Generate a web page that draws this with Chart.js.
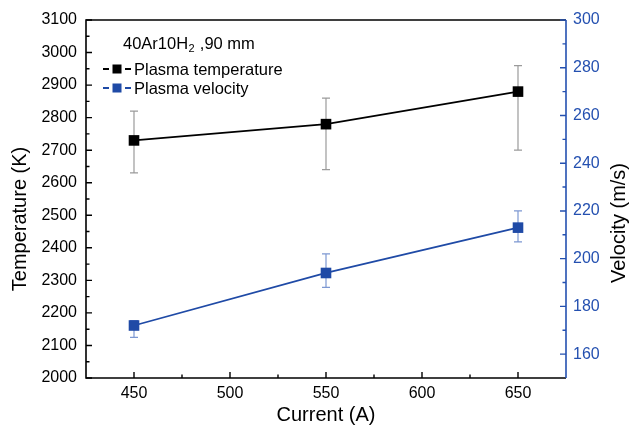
<!DOCTYPE html>
<html>
<head>
<meta charset="utf-8">
<script src="https://cdn.jsdelivr.net/npm/chart.js@4/dist/chart.umd.min.js"></script>
<style>
  html, body { margin: 0; padding: 0; background: #ffffff; }
  #wrap { width: 629px; height: 425px; }
</style>
</head>
<body>
<div id="wrap"><canvas id="chart" width="629" height="425"></canvas></div>
<script>
// Arc current (A)
const currents = [450, 550, 650];

// Plasma temperature (K) with error range
const temperature = [2730, 2780, 2880];
const temperatureLow = [2630, 2640, 2700];
const temperatureHigh = [2820, 2860, 2960];

// Plasma velocity (m/s) with error range
const velocity = [172, 194, 213];
const velocityLow = [167, 188, 207];
const velocityHigh = [174, 202, 220];

// Axis tick labels
const xTicks = [450, 500, 550, 600, 650];
const xMinorTicks = [475, 525, 575, 625];
const tempTicks = [2000, 2100, 2200, 2300, 2400, 2500, 2600, 2700, 2800, 2900, 3000, 3100];
const tempMinorTicks = [2050, 2150, 2250, 2350, 2450, 2550, 2650, 2750, 2850, 2950, 3050];
const velTicks = [160, 180, 200, 220, 240, 260, 280, 300];
const velMinorTicks = [170, 190, 210, 230, 250, 270, 290];

const FONT = '"Liberation Sans", Arial, sans-serif';
const BLACK = '#000000';
const BLUE = '#1f4aa6';
const AXIS_BLUE = '#2450b0';
const GRAY_ERR = '#9b9b9b';
const BLUE_ERR = '#7d98d2';

function fixedTicks(list) {
  return function (scale) { scale.ticks = list.map(v => ({ value: v })); };
}
const plainLabel = v => String(v);

const errorBars = {
  id: 'errorBars',
  beforeDatasetsDraw(chart) {
    const { ctx, scales } = chart;
    const sets = [
      { low: temperatureLow, high: temperatureHigh, y: scales.yT, color: GRAY_ERR },
      { low: velocityLow, high: velocityHigh, y: scales.yV, color: BLUE_ERR }
    ];
    ctx.save();
    ctx.lineWidth = 1.2;
    sets.forEach(s => {
      ctx.strokeStyle = s.color;
      currents.forEach((c, i) => {
        const x = scales.x.getPixelForValue(c);
        const y1 = s.y.getPixelForValue(s.low[i]);
        const y2 = s.y.getPixelForValue(s.high[i]);
        ctx.beginPath();
        ctx.moveTo(x, y1); ctx.lineTo(x, y2);
        ctx.moveTo(x - 4, y1); ctx.lineTo(x + 4, y1);
        ctx.moveTo(x - 4, y2); ctx.lineTo(x + 4, y2);
        ctx.stroke();
      });
    });
    ctx.restore();
  }
};

const frameAndLabels = {
  id: 'frameAndLabels',
  afterDraw(chart) {
    const { ctx, chartArea: a, scales } = chart;
    ctx.save();
    ctx.lineWidth = 1.6;
    // frame
    ctx.strokeStyle = BLACK;
    ctx.beginPath();
    ctx.moveTo(a.right, a.top); ctx.lineTo(a.left, a.top);
    ctx.lineTo(a.left, a.bottom); ctx.lineTo(a.right, a.bottom);
    ctx.stroke();
    ctx.strokeStyle = AXIS_BLUE;
    ctx.beginPath();
    ctx.moveTo(a.right, a.top); ctx.lineTo(a.right, a.bottom);
    ctx.stroke();

    // inward ticks
    ctx.lineWidth = 1.4;
    ctx.strokeStyle = BLACK;
    ctx.beginPath();
    xTicks.forEach(v => { const x = scales.x.getPixelForValue(v); ctx.moveTo(x, a.bottom); ctx.lineTo(x, a.bottom - 6); });
    xMinorTicks.forEach(v => { const x = scales.x.getPixelForValue(v); ctx.moveTo(x, a.bottom); ctx.lineTo(x, a.bottom - 3.5); });
    tempTicks.forEach(v => { const y = scales.yT.getPixelForValue(v); ctx.moveTo(a.left, y); ctx.lineTo(a.left + 6, y); });
    tempMinorTicks.forEach(v => { const y = scales.yT.getPixelForValue(v); ctx.moveTo(a.left, y); ctx.lineTo(a.left + 3.5, y); });
    ctx.stroke();
    ctx.strokeStyle = AXIS_BLUE;
    ctx.beginPath();
    velTicks.forEach(v => { const y = scales.yV.getPixelForValue(v); ctx.moveTo(a.right, y); ctx.lineTo(a.right - 6, y); });
    velMinorTicks.forEach(v => { const y = scales.yV.getPixelForValue(v); ctx.moveTo(a.right, y); ctx.lineTo(a.right - 3.5, y); });
    ctx.stroke();

    // axis titles
    ctx.textAlign = 'center';
    ctx.textBaseline = 'middle';
    ctx.font = '20px ' + FONT;
    ctx.fillStyle = BLACK;
    ctx.fillText('Current (A)', (a.left + a.right) / 2, 415);
    ctx.save();
    ctx.translate(20, 219); ctx.rotate(-Math.PI / 2);
    ctx.fillText('Temperature (K)', 0, 0);
    ctx.restore();
    ctx.save();
    ctx.translate(619, 223); ctx.rotate(-Math.PI / 2);
    ctx.fillText('Velocity (m/s)', 0, 0);
    ctx.restore();

    // legend block
    ctx.textAlign = 'left';
    ctx.font = '16.5px ' + FONT;
    let hx = 123;
    const hy = 44;
    ctx.fillText('40Ar10H', hx, hy);
    hx += ctx.measureText('40Ar10H').width;
    ctx.font = '11px ' + FONT;
    ctx.fillText('2', hx + 0.5, hy + 5);
    hx += ctx.measureText('2').width + 1;
    ctx.font = '16.5px ' + FONT;
    ctx.fillText(' ,90 mm', hx, hy);

    const rows = [
      { label: 'Plasma temperature', color: BLACK, y: 69 },
      { label: 'Plasma velocity', color: BLUE, y: 88 }
    ];
    rows.forEach(r => {
      ctx.strokeStyle = r.color;
      ctx.lineWidth = 1.8;
      ctx.beginPath();
      ctx.moveTo(103, r.y); ctx.lineTo(109, r.y);
      ctx.moveTo(125, r.y); ctx.lineTo(131, r.y);
      ctx.stroke();
      ctx.fillStyle = r.color;
      ctx.fillRect(112.5, r.y - 4.5, 9, 9);
      ctx.fillStyle = BLACK;
      ctx.fillText(r.label, 134, r.y + 1);
    });
    ctx.restore();
  }
};

new Chart(document.getElementById('chart'), {
  type: 'line',
  data: {
    datasets: [
      {
        label: 'Plasma temperature',
        data: currents.map((c, i) => ({ x: c, y: temperature[i] })),
        yAxisID: 'yT',
        borderColor: BLACK,
        backgroundColor: BLACK,
        borderWidth: 1.8,
        pointStyle: 'rect',
        pointRadius: 7.5,
        pointBorderWidth: 0,
        pointBackgroundColor: BLACK
      },
      {
        label: 'Plasma velocity',
        data: currents.map((c, i) => ({ x: c, y: velocity[i] })),
        yAxisID: 'yV',
        borderColor: BLUE,
        backgroundColor: BLUE,
        borderWidth: 1.8,
        pointStyle: 'rect',
        pointRadius: 7.5,
        pointBorderWidth: 0,
        pointBackgroundColor: BLUE
      }
    ]
  },
  options: {
    responsive: false,
    animation: false,
    devicePixelRatio: 1,
    layout: { padding: { top: 20, left: 0, right: 0, bottom: 0 } },
    plugins: { legend: { display: false }, tooltip: { enabled: false } },
    scales: {
      x: {
        type: 'linear',
        min: 425, max: 675,
        afterBuildTicks: fixedTicks(xTicks),
        afterFit(s) { s.height = 47; },
        grid: { display: false, drawTicks: false },
        border: { display: false },
        ticks: { color: BLACK, padding: 6, font: { family: FONT, size: 16 }, callback: plainLabel }
      },
      yT: {
        type: 'linear',
        position: 'left',
        min: 2000, max: 3100,
        afterBuildTicks: fixedTicks(tempTicks),
        afterFit(s) { s.width = 86; },
        grid: { display: false, drawTicks: false },
        border: { display: false },
        ticks: { color: BLACK, padding: 9, font: { family: FONT, size: 16 }, callback: plainLabel }
      },
      yV: {
        type: 'linear',
        position: 'right',
        min: 150, max: 300,
        afterBuildTicks: fixedTicks(velTicks),
        afterFit(s) { s.width = 63; },
        grid: { display: false, drawTicks: false },
        border: { display: false },
        ticks: { color: AXIS_BLUE, padding: 7, font: { family: FONT, size: 16 }, callback: plainLabel }
      }
    }
  },
  plugins: [errorBars, frameAndLabels]
});
</script>
</body>
</html>
